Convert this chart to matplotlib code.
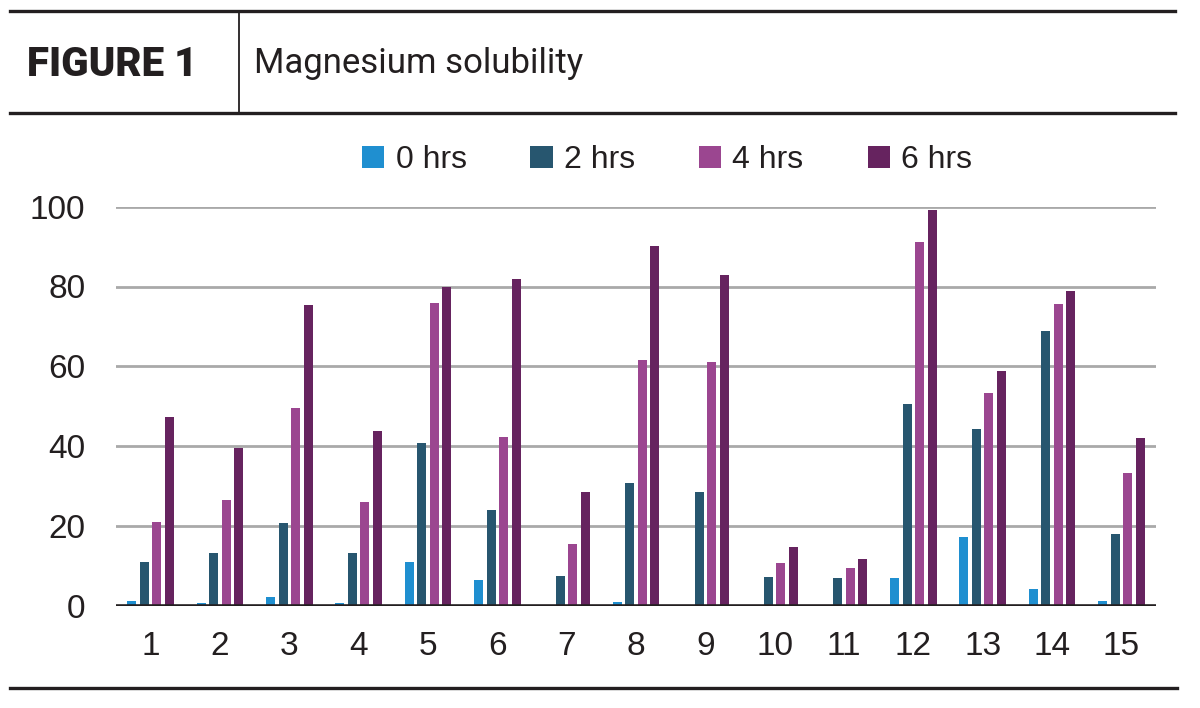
import numpy as np
import matplotlib
matplotlib.use("Agg")
import matplotlib.pyplot as plt
from matplotlib.lines import Line2D
from matplotlib.patches import Patch

samples = ["1", "2", "3", "4", "5", "6", "7", "8", "9", "10", "11", "12", "13", "14", "15"]
series_names = ["0 hrs", "2 hrs", "4 hrs", "6 hrs"]
hrs0 = [1.1, 0.8, 2.2, 0.6, 10.9, 6.4, 0, 0.9, 0, 0, 0, 7.0, 17.3, 4.3, 1.2]
hrs2 = [10.9, 13.3, 20.7, 13.2, 40.9, 24.1, 7.5, 30.7, 28.4, 7.2, 7.0, 50.6, 44.4, 68.8, 18.0]
hrs4 = [21.1, 26.6, 49.6, 26.1, 75.9, 42.3, 15.4, 61.6, 61.0, 10.6, 9.4, 91.2, 53.2, 75.5, 33.3]
hrs6 = [47.3, 39.6, 75.4, 43.7, 80.0, 82.0, 28.4, 90.2, 82.9, 14.6, 11.8, 99.2, 58.7, 78.9, 42.0]
colors = ["#1f8fd0", "#27566f", "#9b4690", "#66235f"]

narrow = ["Liberation Sans Narrow", "Liberation Sans", "DejaVu Sans"]
ink = "#231f20"

fig = plt.figure(figsize=(12, 7.08), dpi=100)

# header rules
fig.add_artist(Line2D([10/1200, 1175/1200], [1 - 11/708] * 2, color=ink, lw=2.4))
fig.add_artist(Line2D([10/1200, 1175/1200], [1 - 113/708] * 2, color=ink, lw=2.4))
fig.add_artist(Line2D([239/1200] * 2, [1 - 11/708, 1 - 113/708], color=ink, lw=1.3))
fig.add_artist(Line2D([10/1200, 1177/1200], [1 - 688/708] * 2, color=ink, lw=2.4))

fig.text(27/1200, 1 - 64/708, "FIGURE 1", fontsize=29, fontweight="heavy",
         family=["Roboto", "DejaVu Sans"], color=ink, va="center", ha="left")
fig.text(254/1200, 1 - 64/708, "Magnesium solubility", fontsize=25,
         family=["Roboto", "DejaVu Sans"], color=ink, va="center", ha="left")

ax = fig.add_axes([116/1200, 1 - 605.7/708, 1040/1200, 399/708])
x = np.arange(len(samples))
pitch = 0.18
width = 0.13
for i, (vals, c) in enumerate(zip([hrs0, hrs2, hrs4, hrs6], colors)):
    ax.bar(x + (i - 1.5) * pitch, vals, width, color=c, label=series_names[i], zorder=3)

ax.set_xlim(-0.5, len(samples) - 0.5)
ax.set_ylim(0, 100)
ax.set_yticks([0, 20, 40, 60, 80, 100])
ax.set_xticks(x)
ax.set_xticklabels(samples)
ax.grid(axis="y", color="#a9a9a9", lw=2.0, zorder=0)
ax.axhline(0, color=ink, lw=2.6, zorder=4)
for s in ax.spines.values():
    s.set_visible(False)
ax.tick_params(length=0)
ax.tick_params(axis="y", pad=22)
ax.tick_params(axis="x", pad=18)
for lab in ax.get_xticklabels() + ax.get_yticklabels():
    lab.set_family(narrow)
    lab.set_fontsize(24)
    lab.set_color(ink)

handles = [Patch(facecolor=c, edgecolor="none") for c in colors]
leg = fig.legend(handles, series_names, loc="center", bbox_to_anchor=(667/1200, 1 - 160/708),
                 ncol=4, frameon=False, handlelength=0.7, handleheight=0.7,
                 handletextpad=0.35, columnspacing=2.0,
                 prop={"family": narrow, "size": 23})
for t in leg.get_texts():
    t.set_color(ink)

fig.savefig("out.png", dpi=100, facecolor="white")
